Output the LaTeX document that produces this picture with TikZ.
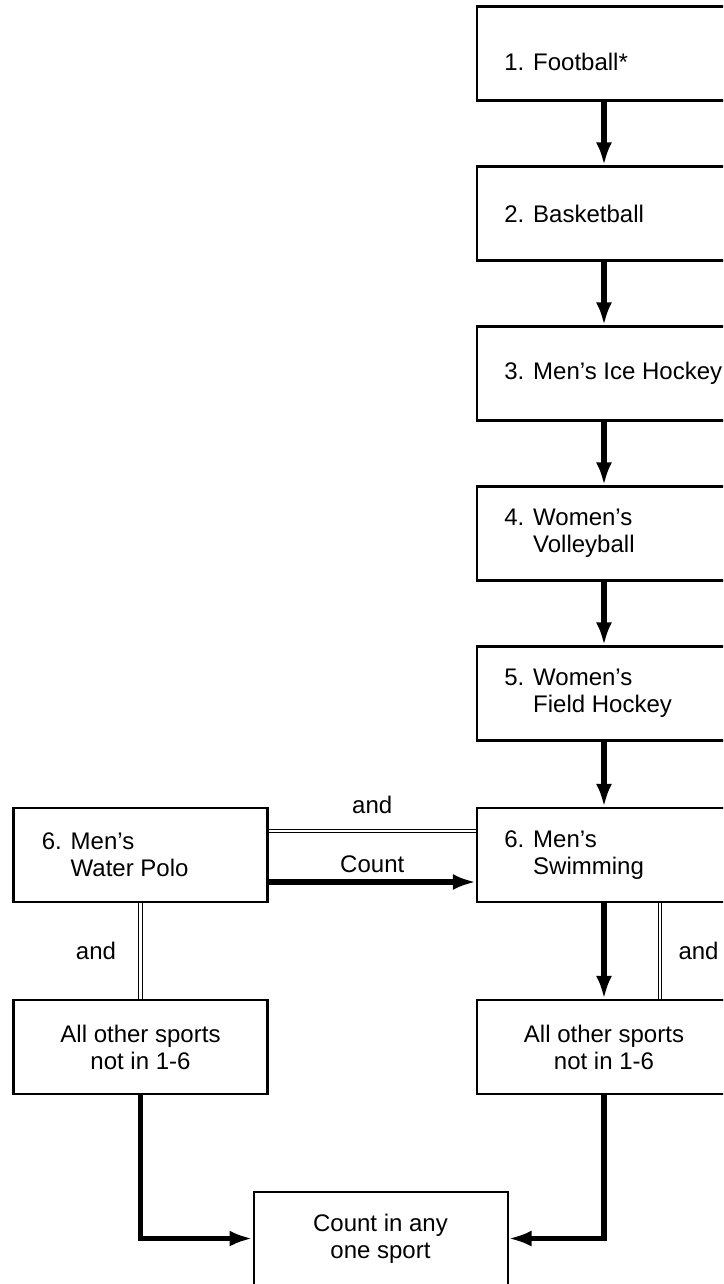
\documentclass[tikz,border=0pt]{standalone}
\usepackage{fontspec}
\setmainfont{Liberation Sans}
\usetikzlibrary{arrows.meta}
\begin{document}
\begin{tikzpicture}[x=0.5pt,y=-0.5pt,
  box/.style={draw,line width=1.1pt,minimum width=127pt,minimum height=47pt,inner sep=0pt},
  txt/.style={inner sep=0pt,font=\fontsize{12pt}{13.5pt}\selectfont},
  flow/.style={line width=2.6pt,-{Latex[length=11.5pt,width=8pt]}},
  dbl/.style={double,line width=0.5pt,double distance=1.2pt}]
\useasboundingbox (0,0) rectangle (723,1284);
\clip (0,0) rectangle (723,1284);
% boxes
\node[box] (b1) at (604,53.5) {};
\node[box] (b2) at (604,213.5) {};
\node[box] (b3) at (604,373.5) {};
\node[box] (b4) at (604,533.5) {};
\node[box] (b5) at (604,693.5) {};
\node[box] (b6) at (604,855) {};
\node[box] (wp) at (140.5,855) {};
\node[box] (r7) at (604,1047) {};
\node[box] (l7) at (140.5,1047) {};
\node[box,line width=1pt] (cnt) at (380.5,1238.5) {};
% texts
\node[txt,anchor=west] (t1) at ([xshift=14pt,yshift=-4pt]b1.west) {1. Football*};
\node[txt,anchor=west] (t2) at ([xshift=14pt]b2.west) {2. Basketball};
\node[txt,anchor=west] (t3) at ([xshift=14pt]b3.west) {3. Men’s Ice Hockey};
\node[txt,anchor=west,align=left] (t4) at ([xshift=14pt]b4.west) {4. Women’s\\\hphantom{4. }Volleyball};
\node[txt,anchor=west,align=left] (t5) at ([xshift=14pt]b5.west) {5. Women’s\\\hphantom{5. }Field Hockey};
\node[txt,anchor=west,align=left] (t6) at ([xshift=14pt]b6.west) {6. Men’s\\\hphantom{6. }Swimming};
\node[txt,anchor=west,align=left] (twp) at ([xshift=14.5pt]wp.west) {6. Men’s\\\hphantom{6. }Water Polo};
\node[txt,align=center] (tr7) at (r7) {All other sports\\not in 1-6};
\node[txt,align=center] (tl7) at (l7) {All other sports\\not in 1-6};
\node[txt,align=center] (tcnt) at (cnt) {Count in any\\one sport};
% connectors
\foreach \a/\b in {b1/b2,b2/b3,b3/b4,b4/b5,b5/b6,b6/r7}
  \draw[flow] (\a) -- (\b);
\draw[dbl] ([yshift=12pt]wp.east) -- node[txt,above=8.5pt] (and1) {and} ([yshift=12pt]b6.west);
\draw[flow] ([yshift=-13.5pt]wp.east) -- node[txt,above=3.5pt] (cl) {Count} ([yshift=-13.5pt]b6.west);
\draw[dbl] (wp.south) -- node[txt,left=12pt] (and2) {and} (l7.north);
\draw[dbl] ([xshift=28pt]b6.south) -- node[txt,right=9pt] (and3) {and} ([xshift=28pt]r7.north);
\draw[flow] (l7.south) |- (cnt.west);
\draw[flow] (r7.south) |- (cnt.east);
\end{tikzpicture}
\end{document}
